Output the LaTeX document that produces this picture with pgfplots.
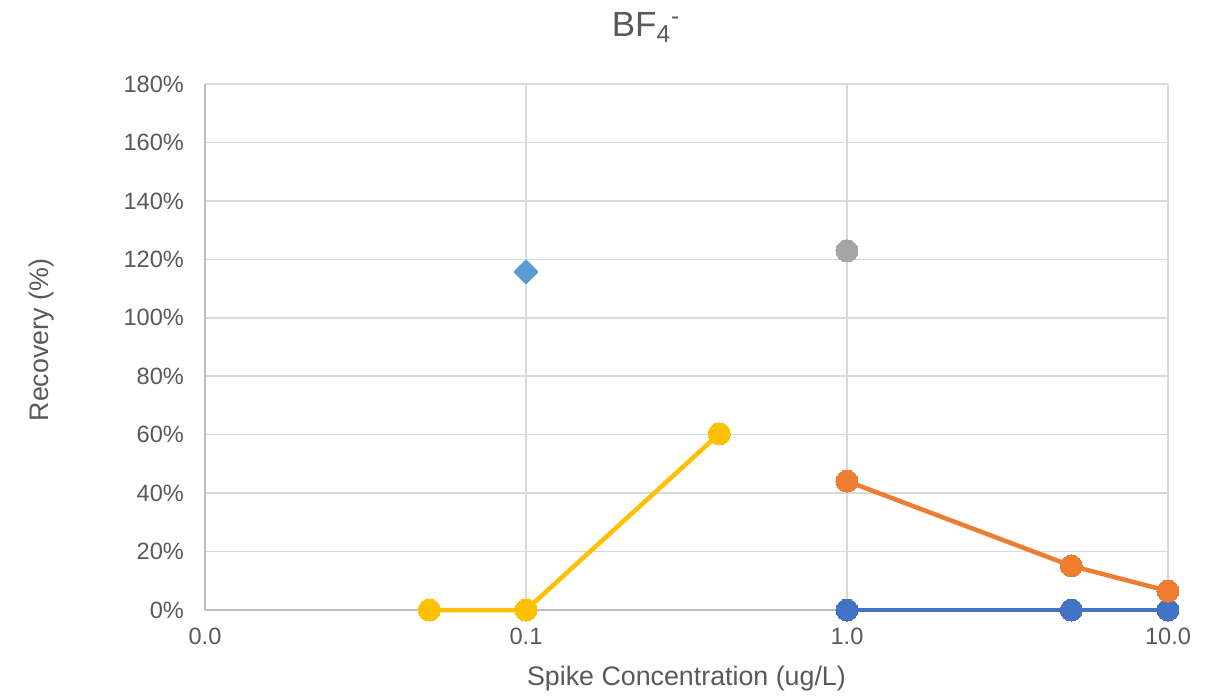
\documentclass[border=0pt]{standalone}
\usepackage{pgfplots}
\pgfplotsset{compat=1.18}
\usepackage{fontspec}
\setmainfont{Liberation Sans}
\definecolor{gridc}{HTML}{D9D9D9}
\definecolor{axisc}{HTML}{BFBFBF}
\definecolor{labelc}{HTML}{595959}
\definecolor{cyellow}{HTML}{FFC000}
\definecolor{corange}{HTML}{ED7D31}
\definecolor{cblue}{HTML}{4472C4}
\definecolor{cgray}{HTML}{A5A5A5}
\definecolor{clblue}{HTML}{5B9BD5}
\begin{document}
\begin{tikzpicture}
\begin{axis}[
  xmode=log, log basis x=10,
  width=481.5pt, height=263pt, scale only axis,
  xmin=0.01, xmax=10, ymin=0, ymax=180,
  xtick={0.01,0.1,1,10}, xticklabels={0.0,0.1,1.0,10.0},
  xminorticks=false,
  ytick={0,20,...,180},
  yticklabel={\pgfmathprintnumber{\tick}\%},
  /pgf/number format/assume math mode=true,
  grid=major, major grid style={draw=gridc, line width=0.75pt},
  axis lines=left, axis line style={-, draw=axisc, line width=0.75pt},
  major tick length=0pt, tick style={draw=none},
  tick label style={font=\fontsize{11.8}{14}\selectfont, text=labelc},
  xticklabel style={yshift=-5.5pt},
  yticklabel style={xshift=-7pt},
  title={BF\textsubscript{4}\textsuperscript{-}},
  title style={at={(axis description cs:0.458,1.0875)}, anchor=base, yshift=-5.5pt, font=\fontsize{17.5}{20}\selectfont, text=labelc},
  xlabel={Spike Concentration (ug/L)},
  xlabel style={at={(axis description cs:0.5,-0.1436)}, anchor=base, font=\fontsize{13.4}{16}\selectfont, text=labelc},
  ylabel={Recovery (\%)},
  ylabel style={at={(axis description cs:-0.1693,0.513)}, anchor=center, font=\fontsize{13.4}{16}\selectfont, text=labelc},
  clip=false,
]
\addplot[cblue, line width=2.25pt, mark=*, mark size=5.5pt, mark options={fill=cblue, draw=cblue, line width=0pt}]
  coordinates {(1,0) (5,0) (10,0)};
\addplot[corange, line width=2.25pt, mark=*, mark size=5.5pt, mark options={fill=corange, draw=corange, line width=0pt}]
  coordinates {(1,44.1) (5,15.1) (10,6.5)};
\addplot[only marks, mark=*, mark size=5.5pt, mark options={fill=cgray, draw=cgray, line width=0pt}]
  coordinates {(1,122.9)};
\addplot[only marks, mark=square*, mark size=4pt, mark options={rotate=45, fill=clblue, draw=clblue, line width=1pt, line join=round}]
  coordinates {(0.1,115.7)};
\addplot[cyellow, line width=2.25pt, mark=*, mark size=5.5pt, mark options={fill=cyellow, draw=cyellow, line width=0pt}]
  coordinates {(0.05,0) (0.1,0) (0.4,60.3)};
\end{axis}
\pgfresetboundingbox
\useasboundingbox (current axis.south west) ++(-102.5pt,-43.5pt) rectangle ([shift={(29.5pt,42pt)}]current axis.north east);
\end{tikzpicture}
\end{document}
